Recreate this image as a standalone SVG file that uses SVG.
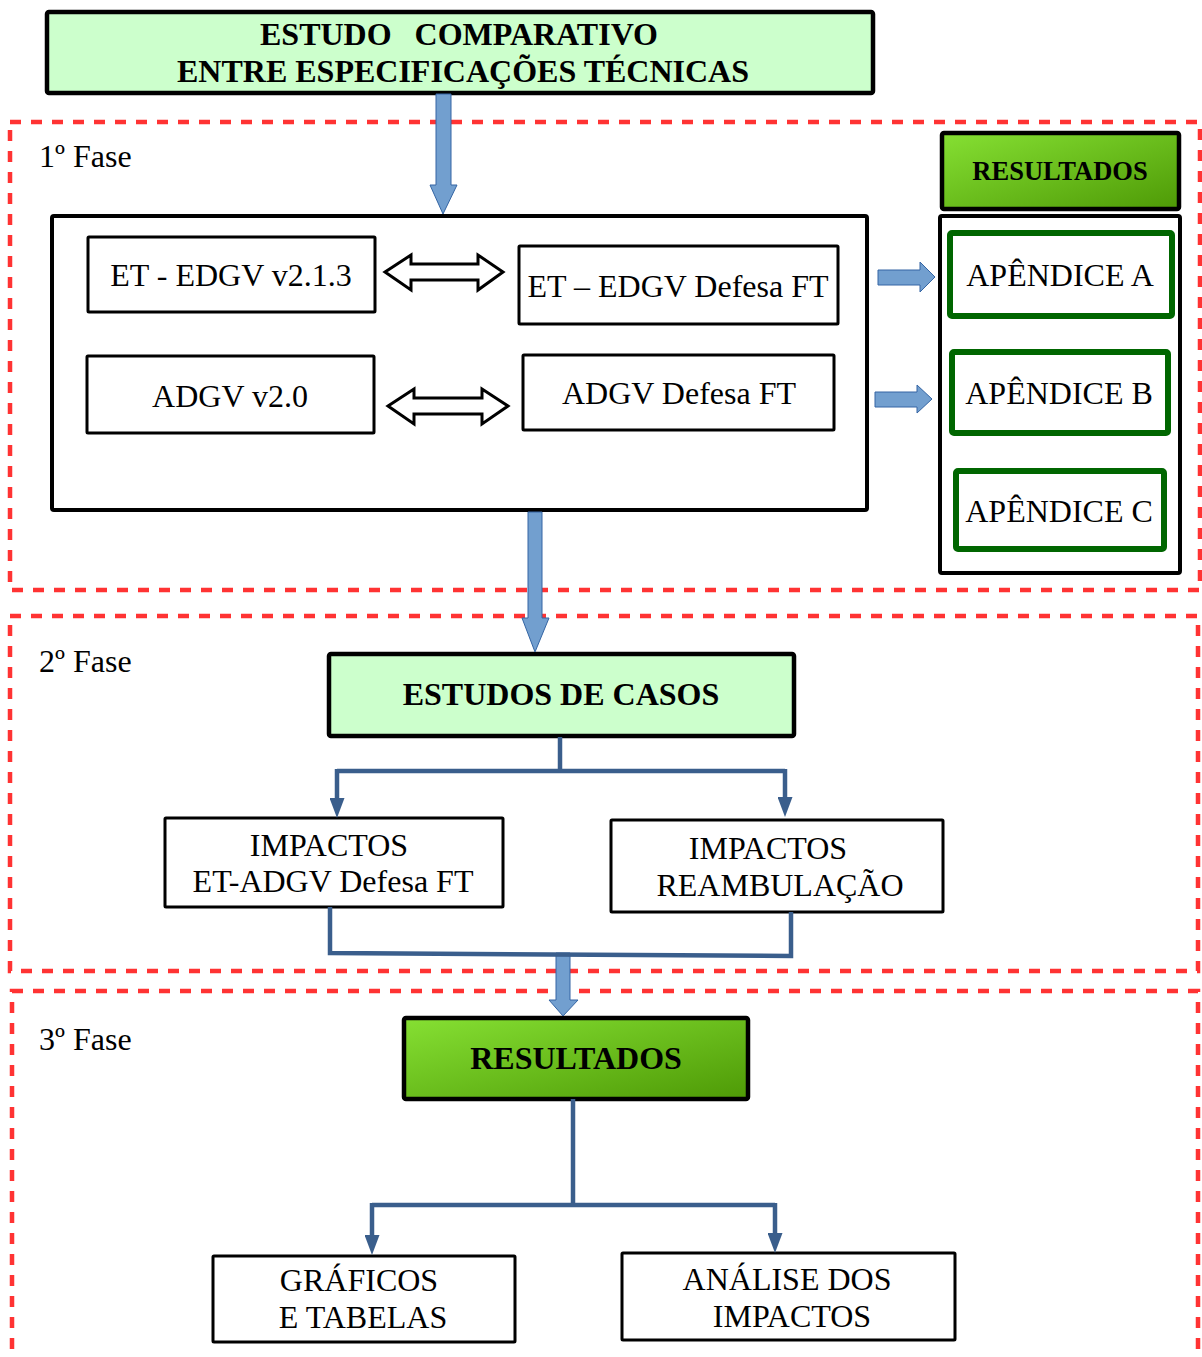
<svg xmlns="http://www.w3.org/2000/svg" width="1202" height="1357" viewBox="0 0 1202 1357">
<defs>
<linearGradient id="gr" x1="0" y1="0" x2="1" y2="1">
<stop offset="0" stop-color="#86e033"/>
<stop offset="1" stop-color="#4e9a06"/>
</linearGradient>
<marker id="ah" viewBox="0 0 20 15" refX="12" refY="7.5" markerWidth="20" markerHeight="15" markerUnits="userSpaceOnUse" orient="auto">
<path d="M0,0 L20,7.5 L0,15 Z" fill="#3a5e8c"/>
</marker>
</defs>
<style>
text{font-family:"Liberation Serif","Times New Roman",serif;fill:#000}
.t{font-size:32px;text-anchor:middle}
.b{font-weight:bold;text-anchor:middle}
.ph{fill:none;stroke:#ff3333;stroke-width:4.5;stroke-dasharray:11 10}
.box{fill:#fff;stroke:#000;stroke-width:3}
.big{fill:#fff;stroke:#000;stroke-width:4}
.lg{fill:#ccffcc;stroke:#000;stroke-width:4.5}
.dg{fill:url(#gr);stroke:#000;stroke-width:4.5}
.ap{fill:#fff;stroke:#006600;stroke-width:6}
.fat{fill:#729fcf;stroke:#3465a4;stroke-width:1}
.dbl{fill:#fff;stroke:#000;stroke-width:3;stroke-linejoin:miter}
.ln{fill:none;stroke:#3a5e8c;stroke-width:4.5}
</style>
<rect width="1202" height="1357" fill="#fff"/>

<g id="phases">
<rect class="ph" x="10" y="122" width="1190" height="468"/>
<text x="39" y="167" style="font-size:32px">1º Fase</text>
<rect class="ph" x="10" y="616" width="1188" height="355"/>
<text x="39" y="672" style="font-size:32px">2º Fase</text>
<rect class="ph" x="12" y="991" width="1186" height="400"/>
<text x="39" y="1050" style="font-size:32px">3º Fase</text>
</g>

<g id="title">
<rect class="lg" x="47" y="12" width="826" height="81" rx="2"/>
<text x="260" y="45" style="font-size:32px;font-weight:bold">ESTUDO</text>
<text x="658" y="45" style="font-size:32px;font-weight:bold;text-anchor:end">COMPARATIVO</text>
<text class="b" x="463" y="82" style="font-size:32px">ENTRE ESPECIFICAÇÕES TÉCNICAS</text>
</g>

<g id="main-box">
<rect class="big" x="52" y="216" width="815" height="294" rx="2"/>
</g>

<g id="et-edgv">
<rect class="box" x="88" y="237" width="287" height="75" rx="1"/>
<text class="t" x="231" y="286">ET - EDGV v2.1.3</text>
</g>
<g id="et-edgv-defesa">
<rect class="box" x="519" y="246" width="319" height="78" rx="1"/>
<text class="t" x="678" y="297">ET – EDGV Defesa FT</text>
</g>
<g id="adgv">
<rect class="box" x="87" y="356" width="287" height="77" rx="1"/>
<text class="t" x="230" y="407">ADGV v2.0</text>
</g>
<g id="adgv-defesa">
<rect class="box" x="523" y="355" width="311" height="75" rx="1"/>
<text class="t" x="679" y="404">ADGV Defesa FT</text>
</g>

<g id="resultados-top">
<rect class="dg" x="942" y="133" width="237" height="76" rx="2"/>
<text class="b" x="1060" y="180" style="font-size:26.5px">RESULTADOS</text>
</g>
<g id="apendices">
<rect class="big" x="940" y="216" width="240" height="357" rx="2"/>
</g>
<g id="apendice-a">
<rect class="ap" x="950" y="233" width="222" height="83" rx="2"/>
<text class="t" x="1060" y="286">APÊNDICE A</text>
</g>
<g id="apendice-b">
<rect class="ap" x="952" y="352" width="216" height="81" rx="2"/>
<text class="t" x="1059" y="404">APÊNDICE B</text>
</g>
<g id="apendice-c">
<rect class="ap" x="956" y="471" width="208" height="78" rx="2"/>
<text class="t" x="1059" y="522">APÊNDICE C</text>
</g>

<g id="estudos-casos">
<rect class="lg" x="329" y="654" width="465" height="82" rx="2"/>
<text class="b" x="561" y="705" style="font-size:32px">ESTUDOS DE CASOS</text>
</g>
<g id="impactos-et">
<rect class="box" x="165" y="818" width="338" height="89" rx="1"/>
<text class="t" x="329" y="856">IMPACTOS</text>
<text class="t" x="333" y="892">ET-ADGV Defesa FT</text>
</g>
<g id="impactos-reamb">
<rect class="box" x="611" y="820" width="332" height="92" rx="1"/>
<text class="t" x="768" y="859">IMPACTOS</text>
<text class="t" x="780" y="896">REAMBULAÇÃO</text>
</g>

<g id="resultados">
<rect class="dg" x="404" y="1018" width="344" height="81" rx="2"/>
<text class="b" x="576" y="1069" style="font-size:32px">RESULTADOS</text>
</g>
<g id="graficos">
<rect class="box" x="213" y="1256" width="302" height="86" rx="1"/>
<text class="t" x="359" y="1291">GRÁFICOS</text>
<text class="t" x="363" y="1328">E TABELAS</text>
</g>
<g id="analise">
<rect class="box" x="622" y="1253" width="333" height="87" rx="1"/>
<text class="t" x="787" y="1290">ANÁLISE DOS</text>
<text class="t" x="792" y="1327">IMPACTOS</text>
</g>

<g id="connectors">
<path class="fat" d="M436,94 H451 V185 H457 L443,214 L430,185 H436 Z"/>
<path class="fat" d="M528,512 H542 V618 H549 L535,652 L522,618 H528 Z"/>
<path class="fat" d="M556,953 H570 V1000 H578 L563,1016 L549,1000 H556 Z"/>
<path class="fat" d="M878,270 H920 V262 L935,277 L920,292 V285 H878 Z"/>
<path class="fat" d="M875,392 H917 V385 L932,399 L917,413 V407 H875 Z"/>
<path class="dbl" d="M385,272 L411,255 V264 H478 V255 L503,272 L478,290 V280 H411 V290 Z"/>
<path class="dbl" d="M388,406 L414,389 V398 H482 V389 L508,406 L482,424 V414 H414 V424 Z"/>
<path class="ln" d="M560,737 V771"/>
<path class="ln" d="M337,771 H785"/>
<path class="ln" d="M337,769 V810" marker-end="url(#ah)"/>
<path class="ln" d="M785,769 V809" marker-end="url(#ah)"/>
<path class="ln" d="M330,907 V953 L791,956 V912"/>
<path class="ln" d="M573,1099 V1205"/>
<path class="ln" d="M372,1205 H775"/>
<path class="ln" d="M372,1203 V1247" marker-end="url(#ah)"/>
<path class="ln" d="M775,1203 V1245" marker-end="url(#ah)"/>
</g>
</svg>
